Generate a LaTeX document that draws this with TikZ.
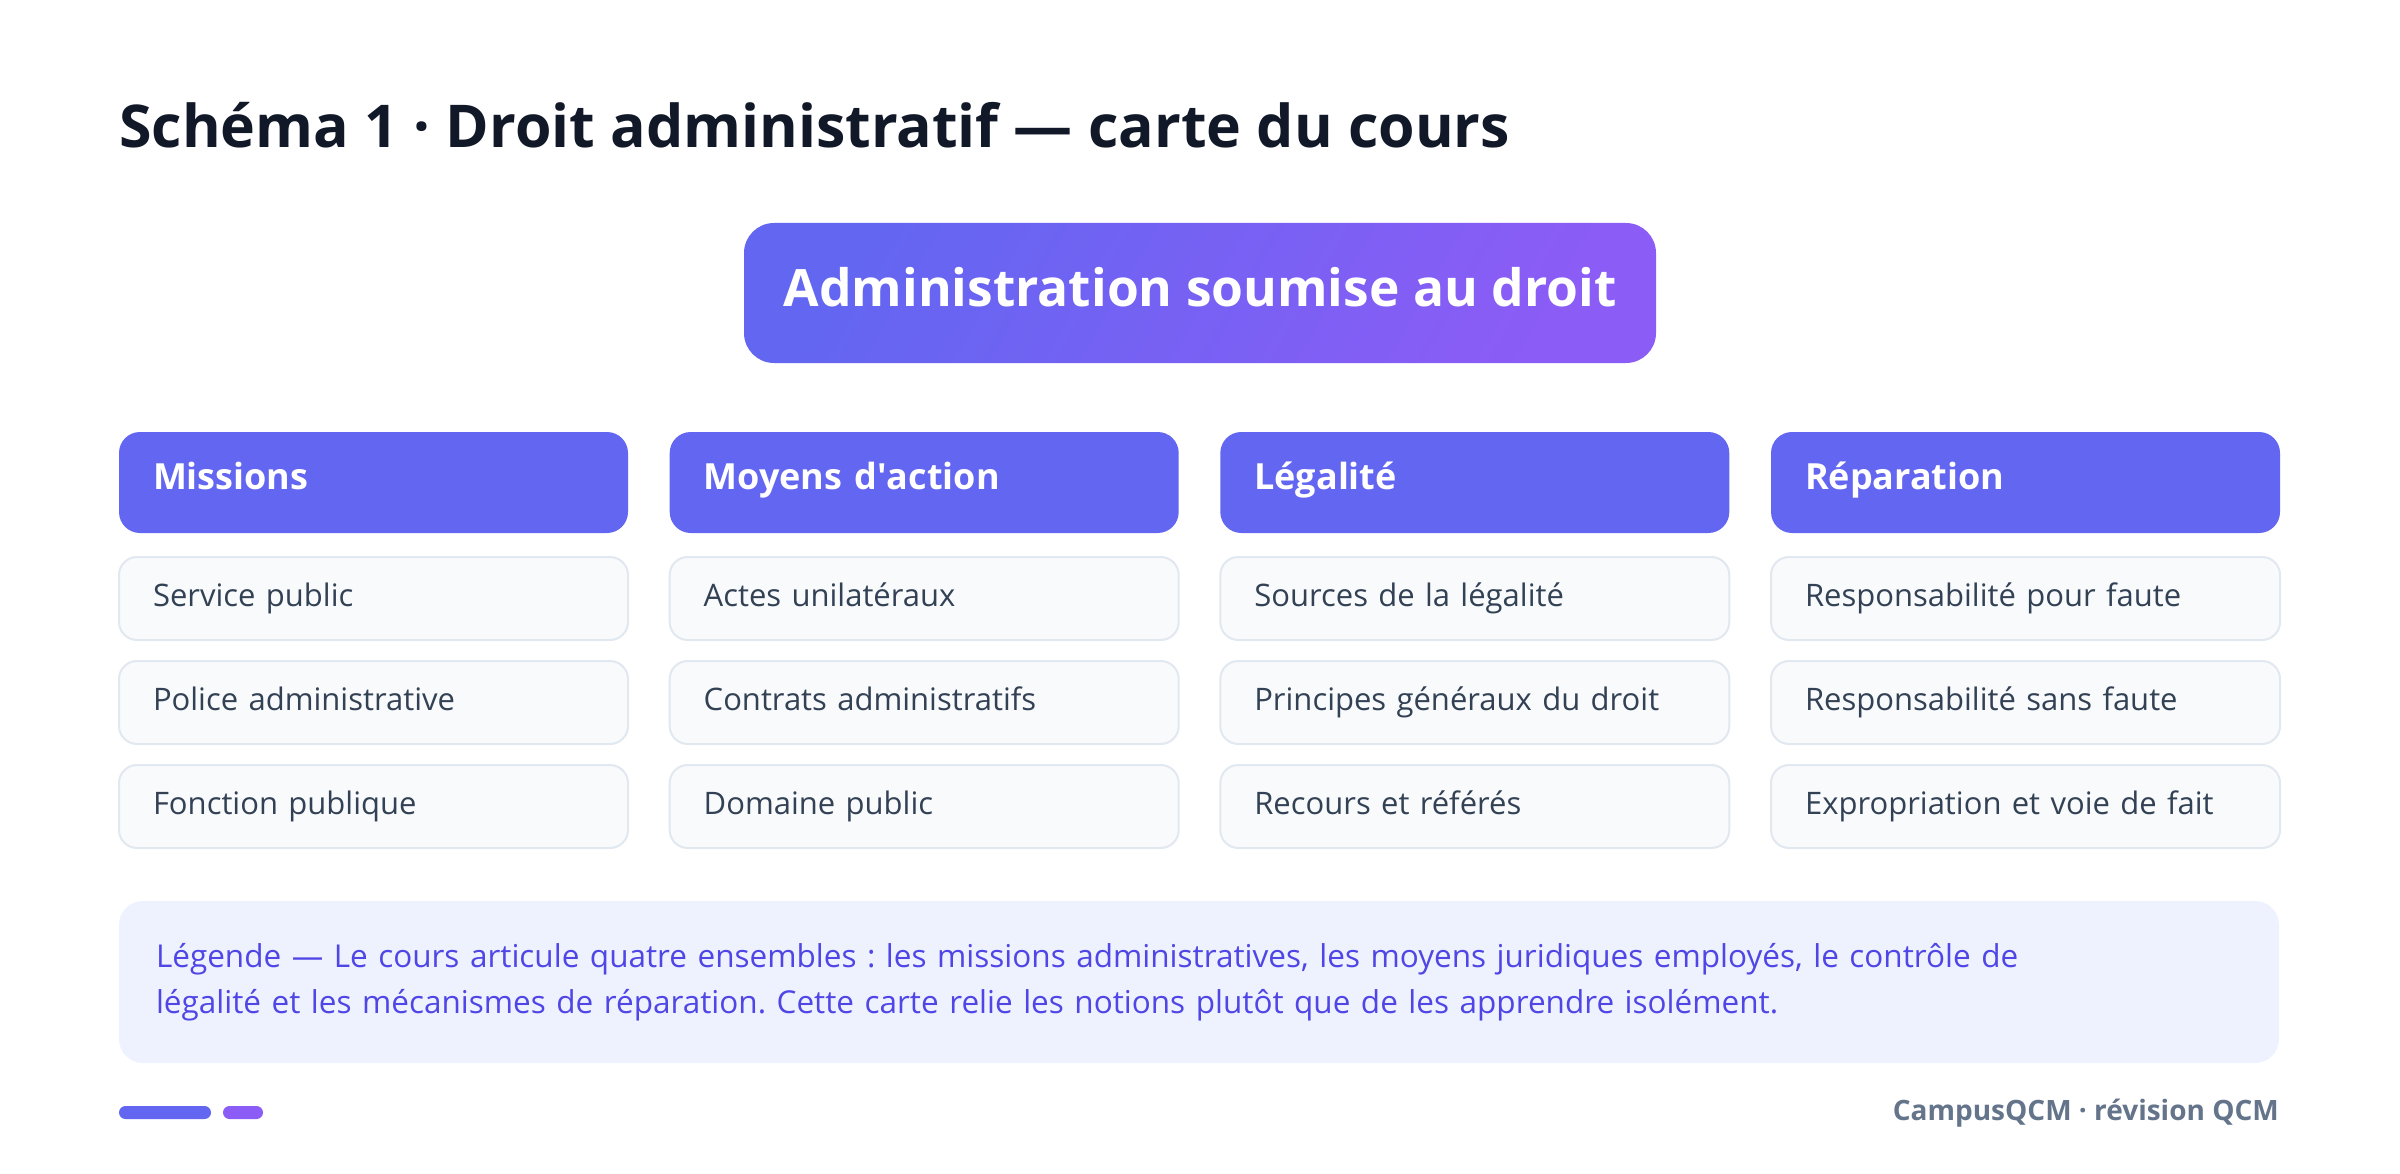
\documentclass[tikz,border=0pt]{standalone}
\usepackage{fontspec}
\setmainfont{Open Sans}
\usetikzlibrary{positioning}
\definecolor{inkdark}{HTML}{111827}
\definecolor{indigo}{HTML}{6366F1}
\definecolor{violet}{HTML}{8B5CF6}
\definecolor{cellbg}{HTML}{F8FAFC}
\definecolor{cellline}{HTML}{E2E8F0}
\definecolor{celltext}{HTML}{334155}
\definecolor{legendbg}{HTML}{EEF2FF}
\definecolor{legendtext}{HTML}{4F46E5}
\definecolor{footgray}{HTML}{64748B}
\newcommand*{\colw }{509}
\newcommand*{\colA }{373.5}
\newcommand*{\colB }{924.2}
\newcommand*{\colC }{1474.8}
\newcommand*{\colD }{2025.5}
\newcommand*{\rowH }{482.5}
\newcommand*{\rowA }{598.5}
\newcommand*{\rowB }{702.5}
\newcommand*{\rowC }{806.5}
\frenchspacing

\begin{document}
\begin{tikzpicture}[x=1pt, y=-1pt,
    head/.style={fill=indigo, text=white, rounded corners=21pt, minimum height=101pt,
        text width=\colw pt-68pt, inner xsep=34pt, align=left, text height=28pt, text depth=15pt,
        font=\bfseries\fontsize{36}{43}\selectfont},
    cell/.style={fill=cellbg, draw=cellline, line width=2pt, rounded corners=18pt, minimum height=83pt,
        text width=\colw pt-68pt, inner xsep=34pt, align=left, text=celltext, text height=24pt, text depth=8pt,
        font=\fontsize{31}{37}\selectfont}]
    \fill [white] (0,0) rectangle (2400,1174);
    \useasboundingbox (0,0) rectangle (2400,1174);
    \node [anchor=base west, inner sep=0pt, text=inkdark, font=\bfseries\fontsize{59}{68}\selectfont] (title) at (119,148) {Schéma 1 · Droit administratif — carte du cours};
    \node [top color=indigo, bottom color=violet, shading angle=60, text=white, rounded corners=30pt, minimum width=912pt, minimum height=140pt, text height=40pt, text depth=13pt, font=\bfseries\fontsize{51.5}{60}\selectfont] (root) at (1200,293) {Administration soumise au droit};
    % colonnes
    \node [head] (hMis) at (\colA,\rowH) {Missions};
    \node [head] (hMoy) at (\colB,\rowH) {Moyens d\textquotesingle action};
    \node [head] (hLeg) at (\colC,\rowH) {Légalité};
    \node [head] (hRep) at (\colD,\rowH) {Réparation};
    \node [cell] (mis1) at (\colA,\rowA) {Service public};
    \node [cell] (mis2) at (\colA,\rowB) {Police administrative};
    \node [cell] (mis3) at (\colA,\rowC) {Fonction publique};
    \node [cell] (moy1) at (\colB,\rowA) {Actes unilatéraux};
    \node [cell] (moy2) at (\colB,\rowB) {Contrats administratifs};
    \node [cell] (moy3) at (\colB,\rowC) {Domaine public};
    \node [cell] (leg1) at (\colC,\rowA) {Sources de la légalité};
    \node [cell] (leg2) at (\colC,\rowB) {Principes généraux du droit};
    \node [cell] (leg3) at (\colC,\rowC) {Recours et référés};
    \node [cell] (rep1) at (\colD,\rowA) {Responsabilité pour faute};
    \node [cell] (rep2) at (\colD,\rowB) {Responsabilité sans faute};
    \node [cell] (rep3) at (\colD,\rowC) {Expropriation et voie de fait};
    % legende
    \node [fill=legendbg, rounded corners=24pt, minimum height=162pt, text width=2086pt, inner xsep=37pt, align=left, text=legendtext, font=\fontsize{31.5}{46}\selectfont] (legend) at (1199,982) {Légende — Le cours articule quatre ensembles : les missions administratives, les moyens juridiques employés, le contrôle de\\légalité et les mécanismes de réparation. Cette carte relie les notions plutôt que de les apprendre isolément.};
    \fill [indigo, rounded corners=6.5pt] (119,1106) rectangle (211,1119);
    \fill [violet, rounded corners=6.5pt] (223,1106) rectangle (263,1119);
    \node [anchor=east, inner sep=0pt, text=footgray, font=\bfseries\fontsize{28}{34}\selectfont] (footer) at (2279,1113) {CampusQCM · révision QCM};
\end{tikzpicture}
\end{document}
